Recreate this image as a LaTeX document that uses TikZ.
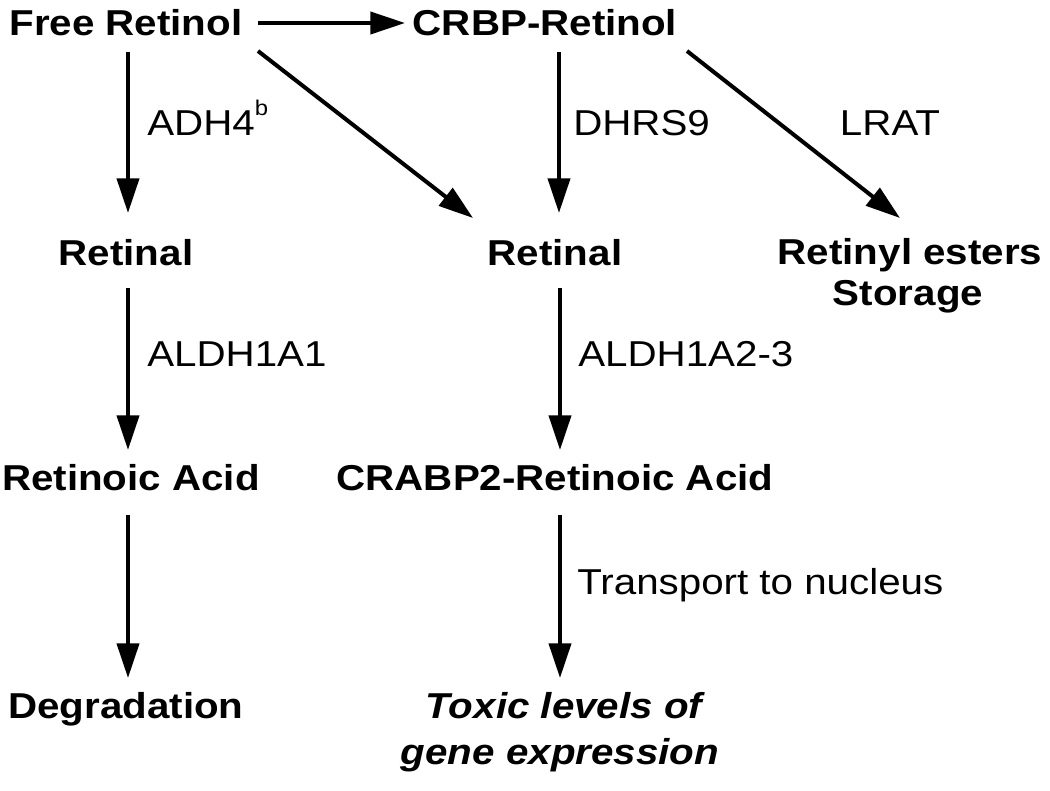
\documentclass[tikz,border=0pt]{standalone}
\usepackage{fontspec}
\setmainfont{Liberation Sans}[FakeStretch=1.12]
\usetikzlibrary{arrows.meta}
\begin{document}
\begin{tikzpicture}[x=0.75pt,y=-0.75pt,
  bx/.style={inner sep=0pt,anchor=base,font=\fontsize{27}{30}\selectfont\bfseries},
  bix/.style={inner sep=0pt,anchor=base,font=\fontsize{27}{30}\selectfont\bfseries\itshape},
  lbl/.style={inner sep=0pt,anchor=base west,font=\fontsize{27}{30}\selectfont},
  arr/.style={line width=3pt,-{Triangle[length=26pt,width=16.5pt]}}]
\useasboundingbox (0,0) rectangle (1050,790);
% compounds
\node[bx] (fr) at (126,35) {Free Retinol};
\node[bx] (crbp) at (545,35) {CRBP-Retinol};
\node[bx] (ret1) at (126,265) {Retinal};
\node[bx] (ret2) at (555,265) {Retinal};
\node[bx] (rest) at (910,264) {Retinyl esters};
\node[bx] (stor) at (908,305) {Storage};
\node[bx] (ra) at (131,490) {Retinoic Acid};
\node[bx] (crabp) at (555,490) {CRABP2-Retinoic Acid};
\node[bx] (deg) at (126,718) {Degradation};
\node[bix] (tox1) at (564,718) {Toxic levels of};
\node[bix] (tox2) at (560,764) {gene expression};
% enzyme labels
\node[lbl] (adh) at (147,135) {ADH4\raisebox{15pt}{\fontsize{16}{16}\selectfont b}};
\node[lbl] (dhrs) at (573,135) {DHRS9};
\node[inner sep=0pt,anchor=base,font=\fontsize{27}{30}\selectfont] (lrat) at (890,135) {LRAT};
\node[lbl] (aldh1) at (147,366) {ALDH1A1};
\node[lbl] (aldh2) at (578,366) {ALDH1A2-3};
\node[lbl] (trans) at (577,594) {Transport to nucleus};
% arrows
\draw[arr] ([shift={(132,-12)}]fr.base) -- ([shift={(-140,-12)}]crbp.base);
\draw[arr] ([shift={(2,17)}]fr.base) -- ([shift={(2,-52)}]ret1.base);
\draw[arr] ([shift={(132,16)}]fr.base) -- ([shift={(-82,-47)}]ret2.base);
\draw[arr] ([shift={(14,17)}]crbp.base) -- ([shift={(4,-52)}]ret2.base);
\draw[arr] ([shift={(142,16)}]crbp.base) -- ([shift={(-10,-46)}]rest.base);
\draw[arr] ([shift={(2,23)}]ret1.base) -- ([shift={(-3,-40)}]ra.base);
\draw[arr] ([shift={(5,23)}]ret2.base) -- ([shift={(5,-40)}]crabp.base);
\draw[arr] ([shift={(-3,25)}]ra.base) -- ([shift={(2,-40)}]deg.base);
\draw[arr] ([shift={(5,25)}]crabp.base) -- ([shift={(-4,-40)}]tox1.base);
\end{tikzpicture}
\end{document}
